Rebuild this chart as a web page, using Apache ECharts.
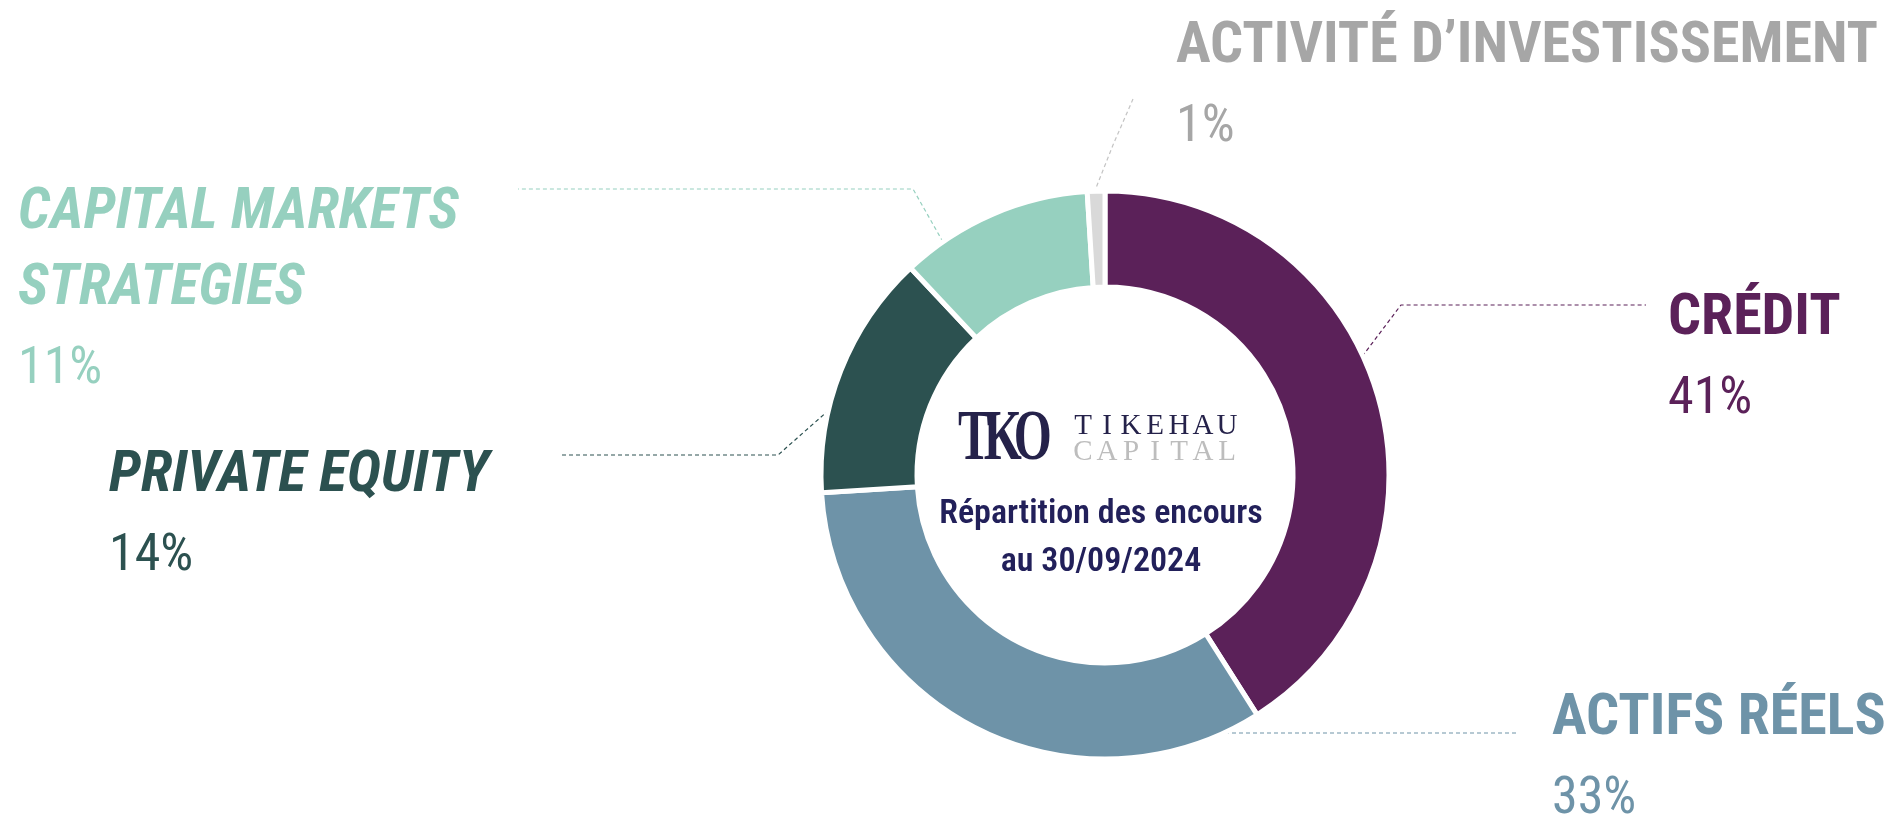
<!DOCTYPE html>
<html>
<head>
<meta charset="utf-8">
<script src="https://cdn.jsdelivr.net/npm/echarts@6/dist/echarts.min.js"></script>
<style>
  html, body { margin: 0; padding: 0; background: #fff; }
  #main { width: 1891px; height: 817px; }
</style>
</head>
<body>
<div id="main"></div>
<script>
// data
var categories = ['CRÉDIT', 'ACTIFS RÉELS', 'PRIVATE EQUITY', 'CAPITAL MARKETS\nSTRATEGIES', 'ACTIVITÉ D’INVESTISSEMENT'];
var shares = [41, 33, 14, 11, 1];
var sliceColors = ['#5b2159', '#6e93a8', '#2c5150', '#96d0bf', '#d9d9d9'];
var textColors = ['#5b2159', '#6e93a8', '#2c5150', '#96d0bf', '#a6a6a6'];
var lineColors = ['#5b2159', '#6e93a8', '#2c5150', '#96d0bf', '#c4c4c4'];
var italicNames = [false, false, true, true, false];
var centerTitle = ['Répartition des encours', 'au 30/09/2024'];

var condensed = '"Noto Sans ExtraCondensed", "Roboto Condensed", "DejaVu Sans Condensed", sans-serif';
var plainCond = '"Roboto Condensed", "DejaVu Sans Condensed", sans-serif';
var serif = '"Liberation Serif", "DejaVu Serif", serif';

// where each label sits and how its leader line runs
var spots = [
  { x: 1668, y: 281, line: [[1358, 362], [1401, 305], [1646, 305]] },
  { x: 1552, y: 681, line: [[1211, 733], [1360, 733], [1516, 733]] },
  { x: 109, y: 438, line: [[829, 410], [778, 455], [560, 455]] },
  { x: 18, y: 175, line: [[943, 242], [913, 189], [518, 189]] },
  { x: 1176, y: 9, line: [[1094, 193], [1113, 145], [1133, 99]] }
];

var pieData = categories.map(function (name, i) {
  return {
    name: name,
    value: shares[i],
    itemStyle: { color: sliceColors[i] },
    label: {
      rich: {
        n: {
          fontFamily: condensed,
          fontSize: 58,
          fontWeight: 'bold',
          fontStyle: italicNames[i] ? 'italic' : 'normal',
          color: textColors[i],
          lineHeight: 76
        },
        p: {
          fontFamily: plainCond,
          fontSize: 52,
          color: textColors[i],
          lineHeight: 86
        }
      }
    },
    labelLine: { lineStyle: { color: lineColors[i] } }
  };
});

// logo letters spread over a fixed width
function spreadWord(word, left, width, y, size, color) {
  var step = width / word.length;
  return word.split('').map(function (ch, i) {
    return {
      type: 'text',
      x: left + step * (i + 0.5),
      y: y,
      style: {
        text: ch,
        font: size + 'px ' + serif,
        fill: color,
        align: 'center',
        verticalAlign: 'middle'
      }
    };
  });
}

var myChart = echarts.init(document.getElementById('main'));
var option = {
  animation: false,
  backgroundColor: '#fff',
  graphic: [
    {
      type: 'group',
      x: 958,
      y: 440,
      scaleX: 0.68,
      children: [
        { type: 'text', x: 0, y: 0, style: { text: 'T', font: 'bold 72px ' + serif, fill: '#25224a', verticalAlign: 'middle' } },
        { type: 'text', x: 38, y: 0, style: { text: 'K', font: 'bold 72px ' + serif, fill: '#25224a', verticalAlign: 'middle' } },
        { type: 'text', x: 82, y: 0, style: { text: 'O', font: 'bold 72px ' + serif, fill: '#25224a', verticalAlign: 'middle' } }
      ]
    }
  ]
    .concat(spreadWord('TIKEHAU', 1071, 168, 426, 29, '#25224a'))
    .concat(spreadWord('CAPITAL', 1071, 168, 452, 29, '#bdbdbd'))
    .concat(centerTitle.map(function (t, i) {
      return {
        type: 'text',
        x: 1101,
        y: 514 + i * 48,
        style: {
          text: t,
          font: '600 34px ' + plainCond,
          fill: '#22205a',
          align: 'center',
          verticalAlign: 'middle'
        }
      };
    })),
  series: [
    {
      type: 'pie',
      center: [1105, 475],
      radius: [188, 284],
      startAngle: 90,
      clockwise: true,
      silent: true,
      avoidLabelOverlap: false,
      itemStyle: { borderColor: '#fff', borderWidth: 5 },
      label: {
        show: true,
        position: 'outside',
        formatter: function (p) {
          var lines = p.name.split('\n').map(function (l) { return '{n|' + l + '}'; });
          return lines.join('\n') + '\n{p|' + p.value + '%}';
        }
      },
      labelLine: {
        show: true,
        length: 20,
        length2: 20,
        lineStyle: { type: [4, 3], width: 1.2 }
      },
      labelLayout: function (params) {
        var s = spots[params.dataIndex];
        return {
          x: s.x,
          y: s.y,
          align: 'left',
          verticalAlign: 'top',
          labelLinePoints: s.line
        };
      },
      data: pieData
    }
  ]
};
myChart.setOption(option);
</script>
</body>
</html>
